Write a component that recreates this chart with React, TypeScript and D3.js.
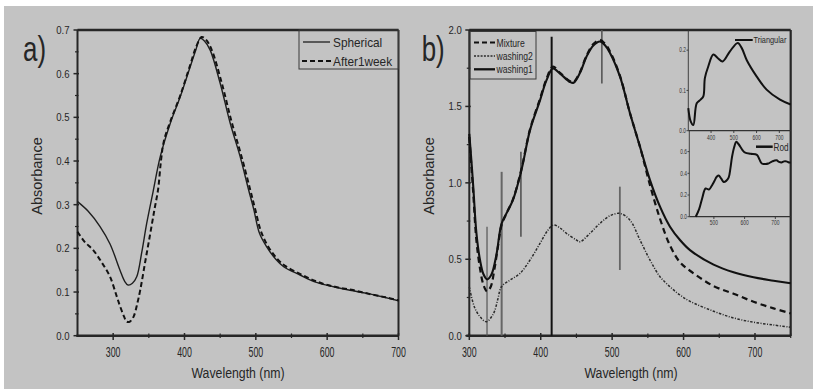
import React from "react";
import * as d3 from "d3";

// ---------- Panel a data ----------
const aSphericalNm = [250, 265, 281.6, 295.6, 309.6, 316, 321, 327, 333, 340, 347, 356, 366, 380, 394, 408, 416, 422, 428, 436, 450, 464, 478, 490, 497, 505, 515, 528, 539, 562, 585, 609, 632, 656, 680, 700];
const aSpherical = [0.307, 0.285, 0.25, 0.21, 0.15, 0.125, 0.116, 0.12, 0.135, 0.19, 0.257, 0.33, 0.41, 0.486, 0.547, 0.616, 0.655, 0.681, 0.675, 0.654, 0.578, 0.487, 0.41, 0.333, 0.29, 0.235, 0.204, 0.175, 0.158, 0.139, 0.122, 0.112, 0.104, 0.097, 0.088, 0.08];
const aWeekNm = [250, 260, 272, 285, 295.6, 305, 310, 315, 319, 324, 329, 334, 338, 345, 352, 358, 363, 367, 371, 380, 394, 408, 416, 424, 430, 438, 452, 466, 480, 492, 499, 507, 517, 530, 541, 564, 587, 611, 634, 658, 682, 700];
const aWeek = [0.238, 0.215, 0.196, 0.165, 0.135, 0.09, 0.066, 0.045, 0.032, 0.033, 0.045, 0.075, 0.105, 0.17, 0.234, 0.29, 0.335, 0.4, 0.445, 0.49, 0.55, 0.62, 0.66, 0.684, 0.678, 0.655, 0.58, 0.49, 0.41, 0.335, 0.29, 0.24, 0.205, 0.176, 0.16, 0.14, 0.123, 0.112, 0.105, 0.096, 0.088, 0.081];
const aXTicks = [300, 400, 500, 600, 700];
const aXMinor = [350, 450, 550, 650];
const aYTicks = [0, 0.1, 0.2, 0.3, 0.4, 0.5, 0.6, 0.7];
const aYMinor = [0.05, 0.15, 0.25, 0.35, 0.45, 0.55, 0.65];
const aLegend = ["Spherical", "After1week"];

// ---------- Panel b data ----------
const bWash1Nm = [300, 303, 305.6, 310, 315, 320, 325, 331, 338, 345, 352, 361, 373, 385, 399, 408, 417, 427, 441, 446, 455, 464, 474, 483, 490, 497, 511, 525, 539, 553, 567, 581, 595, 609, 642, 670, 698, 726, 750];
const bWash1 = [1.32, 1.14, 0.97, 0.67, 0.495, 0.4, 0.368, 0.4, 0.53, 0.73, 0.8, 0.887, 1.083, 1.345, 1.54, 1.67, 1.748, 1.715, 1.66, 1.655, 1.72, 1.825, 1.9, 1.925, 1.9, 1.85, 1.695, 1.455, 1.236, 1.018, 0.844, 0.713, 0.626, 0.56, 0.465, 0.415, 0.382, 0.36, 0.343];
const bMixNm = [300, 305, 310, 315, 320, 325, 330, 335, 340, 345, 352, 361, 373, 385, 399, 408, 417, 427, 441, 446, 455, 464, 474, 483, 490, 497, 511, 525, 539, 553, 567, 581, 595, 609, 642, 670, 698, 726, 750];
const bMix = [1.3, 0.97, 0.62, 0.44, 0.33, 0.29, 0.32, 0.43, 0.58, 0.72, 0.8, 0.89, 1.09, 1.35, 1.55, 1.68, 1.76, 1.72, 1.665, 1.66, 1.725, 1.83, 1.91, 1.935, 1.91, 1.86, 1.7, 1.455, 1.236, 0.985, 0.765, 0.59, 0.48, 0.425, 0.325, 0.275, 0.222, 0.179, 0.146];
const bWash2Nm = [300, 307, 315, 324, 334, 340, 345, 357, 371, 385, 399, 410, 418, 427, 436, 450, 455, 469, 483, 497, 511, 525, 539, 553, 567, 581, 595, 609, 642, 670, 698, 726, 750];
const bWash2 = [0.32, 0.19, 0.124, 0.092, 0.146, 0.24, 0.32, 0.364, 0.408, 0.495, 0.604, 0.69, 0.724, 0.705, 0.67, 0.626, 0.614, 0.67, 0.735, 0.785, 0.8, 0.756, 0.626, 0.495, 0.386, 0.32, 0.266, 0.225, 0.16, 0.116, 0.088, 0.07, 0.055];
const bMarkerNm = [324.8, 345.3, 372.3, 415.3, 485.6, 510.8];
const bMarkerTop = [0.713, 1.072, 1.203, 1.956, 2.0, 0.975];
const bMarkerBottom = [0, 0, 0.647, 0, 1.65, 0.43];
const bXTicks = [300, 400, 500, 600, 700];
const bXMinor = [350, 450, 550, 650, 750];
const bYTicks = [0, 0.5, 1.0, 1.5, 2.0];
const bYMinor = [0.25, 0.75, 1.25, 1.75];
const bLegend = ["Mixture", "washing2", "washing1"];

// ---------- Insets ----------
const triNm = [300, 310.5, 322, 337, 354, 366, 373, 388, 410, 430, 451, 483, 517, 535, 557, 600, 644, 703, 750];
const tri = [0.056, 0.023, 0.014, 0.068, 0.077, 0.085, 0.131, 0.16, 0.189, 0.18, 0.172, 0.197, 0.218, 0.205, 0.175, 0.135, 0.102, 0.077, 0.065];
const triXTicks = [400, 500, 600, 700];
const triYTicks = [0, 0.1, 0.2];
const rodNm = [441, 452, 462, 473, 484, 492, 500, 510, 516, 524, 532, 540, 548, 554, 559, 566, 573, 580, 586, 594, 602, 620, 640, 648, 656, 668, 677, 690, 704, 712, 720, 728, 736, 744, 750];
const rod = [0, 0.07, 0.17, 0.26, 0.25, 0.28, 0.32, 0.37, 0.38, 0.35, 0.32, 0.33, 0.36, 0.45, 0.55, 0.64, 0.69, 0.67, 0.645, 0.61, 0.59, 0.58, 0.57, 0.53, 0.49, 0.485, 0.49, 0.51, 0.52, 0.505, 0.5, 0.51, 0.51, 0.5, 0.5];
const rodXTicks = [500, 600, 700];
const rodYTicks = [0, 0.2, 0.4, 0.6];

const INK = "#262626";
const FONT = "'Liberation Sans', Arial, sans-serif";

function T({ x, y, size, sx = 1, anchor = "start", children, fill = INK }: any) {
  return (
    <text transform={`translate(${x},${y}) scale(${sx},1)`} fontSize={size} fontFamily={FONT} textAnchor={anchor} fill={fill}>
      {children}
    </text>
  );
}

const zip = (xs: number[], ys: number[]) => xs.map((v, i) => [v, ys[i]] as [number, number]);

function makeLine(x: any, y: any) {
  return d3
    .line<[number, number]>()
    .x((d) => x(d[0]))
    .y((d) => y(d[1]))
    .curve(d3.curveCatmullRom.alpha(0.5));
}

export default function App() {
  // Panel a scales
  const ax = d3.scaleLinear().domain([250, 700]).range([77.5, 398.5]);
  const ay = d3.scaleLinear().domain([0, 0.7]).range([335.7, 30]);
  const aLine = makeLine(ax, ay);
  // Panel b scales
  const bx = d3.scaleLinear().domain([300, 750]).range([469.3, 790.7]);
  const by = d3.scaleLinear().domain([0, 2]).range([335.7, 30]);
  const bLine = makeLine(bx, by);
  // Inset scales
  const tx = d3.scaleLinear().domain([300, 750]).range([688.3, 790.7]);
  const ty = d3.scaleLinear().domain([0, 0.25]).range([130.7, 30]);
  const tLine = makeLine(tx, ty);
  const rx = d3.scaleLinear().domain([420, 750]).range([689.3, 790.7]);
  const ry = d3.scaleLinear().domain([0, 0.8]).range([216.7, 129.9]);
  const rLine = makeLine(rx, ry);

  const fmt1 = d3.format(".1f");

  return (
    <div style={{ position: "absolute", left: 0, top: 0 }}>
      <svg width={813} height={389} style={{ display: "block" }}>
        <rect x={0} y={0} width={813} height={389} fill="#ffffff" />
        <rect x={4} y={6} width={809} height={383} fill="#c3c3c3" />

        {/* ================= Panel a ================= */}
        <g>
          {/* frame */}
          <line x1={ax.range()[0]} x2={ax.range()[1]} y1={30} y2={30} stroke={INK} strokeWidth={2.5} />
          <line x1={ax.range()[1]} x2={ax.range()[1]} y1={30} y2={335.7} stroke={INK} strokeWidth={2} />
          <line x1={ax.range()[0]} x2={ax.range()[0]} y1={30} y2={337} stroke={INK} strokeWidth={2} />
          <line x1={ax.range()[0] - 1} x2={ax.range()[1]} y1={335.7} y2={335.7} stroke={INK} strokeWidth={2.5} />
          {aXTicks.map((t) => (
            <g key={"axt" + t}>
              <line x1={ax(t)} x2={ax(t)} y1={333} y2={340} stroke={INK} strokeWidth={1.5} />
              <T x={ax(t)} y={356.7} size={14} sx={0.63} anchor="middle">{String(t)}</T>
            </g>
          ))}
          {aXMinor.map((t) => (
            <line key={"axm" + t} x1={ax(t)} x2={ax(t)} y1={333.5} y2={338} stroke={INK} strokeWidth={1.2} />
          ))}
          {aYTicks.map((t) => (
            <g key={"ayt" + t}>
              <line x1={73.5} x2={79} y1={ay(t)} y2={ay(t)} stroke={INK} strokeWidth={1.5} />
              <T x={69.5} y={ay(t) + 4} size={11.5} sx={0.83} anchor="end">{fmt1(t)}</T>
            </g>
          ))}
          {aYMinor.map((t) => (
            <line key={"aym" + t} x1={75} x2={78.5} y1={ay(t)} y2={ay(t)} stroke={INK} strokeWidth={1.2} />
          ))}
          {/* curves */}
          <path d={aLine(zip(aSphericalNm, aSpherical)) || ""} fill="none" stroke="#1e1e1e" strokeWidth={1.4} />
          <path d={aLine(zip(aWeekNm, aWeek)) || ""} fill="none" stroke="#111" strokeWidth={2} strokeDasharray="5,3" />
          {/* legend */}
          <rect x={299} y={30} width={ax.range()[1] - 299} height={39} fill="none" stroke="#3a3a3a" strokeWidth={1} />
          <line x1={303} x2={330} y1={42} y2={42} stroke="#1e1e1e" strokeWidth={1.3} />
          <T x={333} y={46.5} size={13} sx={0.91}>{aLegend[0]}</T>
          <line x1={302} x2={331} y1={61} y2={61} stroke="#111" strokeWidth={2} strokeDasharray="5,3" />
          <T x={333} y={65.5} size={13} sx={0.91}>{aLegend[1]}</T>
          {/* titles */}
          <T x={23} y={60.5} size={36} sx={0.72}>a)</T>
          <text transform="translate(42,176) rotate(-90)" fontSize={14.5} fontFamily={FONT} textAnchor="middle" fill={INK}>Absorbance</text>
          <T x={238} y={378} size={15} sx={0.82} anchor="middle">Wavelength (nm)</T>
        </g>

        {/* ================= Panel b ================= */}
        <g>
          <line x1={bx.range()[0]} x2={bx.range()[1]} y1={30} y2={30} stroke={INK} strokeWidth={2.5} />
          <line x1={bx.range()[1]} x2={bx.range()[1]} y1={30} y2={336} stroke={INK} strokeWidth={2.2} />
          <line x1={bx.range()[0]} x2={bx.range()[0]} y1={30} y2={337} stroke={INK} strokeWidth={2} />
          <line x1={bx.range()[0] - 3} x2={bx.range()[1]} y1={335.7} y2={335.7} stroke={INK} strokeWidth={2.5} />
          {bXTicks.map((t) => (
            <g key={"bxt" + t}>
              <line x1={bx(t)} x2={bx(t)} y1={333} y2={340} stroke={INK} strokeWidth={1.5} />
              <T x={bx(t)} y={356.7} size={14} sx={0.63} anchor="middle">{String(t)}</T>
            </g>
          ))}
          {bXMinor.map((t) => (
            <line key={"bxm" + t} x1={bx(t)} x2={bx(t)} y1={333.5} y2={338} stroke={INK} strokeWidth={1.2} />
          ))}
          {bYTicks.map((t) => (
            <g key={"byt" + t}>
              <line x1={465.3} x2={470.8} y1={by(t)} y2={by(t)} stroke={INK} strokeWidth={1.5} />
              <T x={461.7} y={by(t) + 4} size={11.5} sx={0.83} anchor="end">{fmt1(t)}</T>
            </g>
          ))}
          {bYMinor.map((t) => (
            <line key={"bym" + t} x1={466.8} x2={470.3} y1={by(t)} y2={by(t)} stroke={INK} strokeWidth={1.2} />
          ))}
          {/* marker lines */}
          {bMarkerNm.map((nm, i) => (
            <line
              key={"mk" + i}
              x1={bx(nm)}
              x2={bx(nm)}
              y1={by(bMarkerTop[i])}
              y2={by(bMarkerBottom[i])}
              stroke={["#555", "#666", "#2e2e2e", "#111", "#555", "#666"][i]}
              strokeWidth={[1.2, 2, 1.2, 2, 1.6, 1.8][i]}
            />
          ))}
          {/* curves */}
          <path d={bLine(zip(bWash2Nm, bWash2)) || ""} fill="none" stroke="#2a2a2a" strokeWidth={1.5} strokeDasharray="2.5,1.5,1,1.5" />
          <path d={bLine(zip(bMixNm, bMix)) || ""} fill="none" stroke="#111" strokeWidth={2.2} strokeDasharray="6,4" />
          <path d={bLine(zip(bWash1Nm, bWash1)) || ""} fill="none" stroke="#111" strokeWidth={2.1} />
          {/* legend */}
          <rect x={470} y={31.5} width={66} height={47.5} fill="none" stroke="#3a3a3a" strokeWidth={1} />
          <line x1={474} x2={495} y1={42.5} y2={42.5} stroke="#111" strokeWidth={2.2} strokeDasharray="5,3" />
          <T x={496.5} y={46.5} size={11.5} sx={0.75}>{bLegend[0]}</T>
          <line x1={474} x2={495} y1={56} y2={56} stroke="#2a2a2a" strokeWidth={1.3} strokeDasharray="2,1.3" />
          <T x={496.5} y={60} size={11.5} sx={0.75}>{bLegend[1]}</T>
          <line x1={474} x2={495} y1={69.3} y2={69.3} stroke="#111" strokeWidth={2.3} />
          <T x={496.5} y={73.3} size={11.5} sx={0.75}>{bLegend[2]}</T>
          {/* titles */}
          <T x={421.7} y={60.5} size={36} sx={0.72}>b)</T>
          <text transform="translate(433.5,176) rotate(-90)" fontSize={14.5} fontFamily={FONT} textAnchor="middle" fill={INK}>Absorbance</text>
          <T x={631} y={378} size={15} sx={0.82} anchor="middle">Wavelength (nm)</T>
        </g>

        {/* ================= Inset: Triangular ================= */}
        <g>
          <line x1={tx.range()[0]} x2={tx.range()[0]} y1={30} y2={130.7} stroke="#333" strokeWidth={0.9} />
          <line x1={tx.range()[0]} x2={tx.range()[1]} y1={130.7} y2={130.7} stroke="#333" strokeWidth={1.3} />
          {triXTicks.map((t) => (
            <g key={"txt" + t}>
              <line x1={tx(t)} x2={tx(t)} y1={130.7} y2={133} stroke="#333" strokeWidth={0.9} />
              <T x={tx(t)} y={139.5} size={7} sx={0.7} anchor="middle" fill="#333">{String(t)}</T>
            </g>
          ))}
          {triYTicks.map((t) => (
            <g key={"tyt" + t}>
              <line x1={686.5} x2={688.3} y1={ty(t)} y2={ty(t)} stroke="#333" strokeWidth={0.9} />
              <T x={686} y={ty(t) + 2.3} size={6.5} sx={0.75} anchor="end" fill="#333">{fmt1(t)}</T>
            </g>
          ))}
          <path d={tLine(zip(triNm, tri)) || ""} fill="none" stroke="#111" strokeWidth={2} />
          <line x1={735} x2={752.7} y1={40} y2={40} stroke="#111" strokeWidth={2} />
          <T x={753.5} y={43} size={9} sx={0.82}>Triangular</T>
        </g>

        {/* ================= Inset: Rod ================= */}
        <g>
          <line x1={rx.range()[0]} x2={rx.range()[0]} y1={130.7} y2={216.7} stroke="#333" strokeWidth={0.9} />
          <line x1={rx.range()[0]} x2={rx.range()[1]} y1={216.7} y2={216.7} stroke="#333" strokeWidth={1.3} />
          {rodXTicks.map((t) => (
            <g key={"rxt" + t}>
              <line x1={rx(t)} x2={rx(t)} y1={216.7} y2={219} stroke="#333" strokeWidth={0.9} />
              <T x={rx(t)} y={224.8} size={7} sx={0.7} anchor="middle" fill="#333">{String(t)}</T>
            </g>
          ))}
          {rodYTicks.map((t) => (
            <g key={"ryt" + t}>
              <line x1={687.5} x2={689.3} y1={ry(t)} y2={ry(t)} stroke="#333" strokeWidth={0.9} />
              <T x={687} y={ry(t) + 2.3} size={6.5} sx={0.75} anchor="end" fill="#333">{fmt1(t)}</T>
            </g>
          ))}
          <path d={rLine(zip(rodNm, rod)) || ""} fill="none" stroke="#111" strokeWidth={2} />
          <line x1={756} x2={772.7} y1={146.7} y2={146.7} stroke="#111" strokeWidth={2.5} />
          <T x={773.5} y={150.5} size={10} sx={0.82}>Rod</T>
        </g>
      </svg>
    </div>
  );
}
